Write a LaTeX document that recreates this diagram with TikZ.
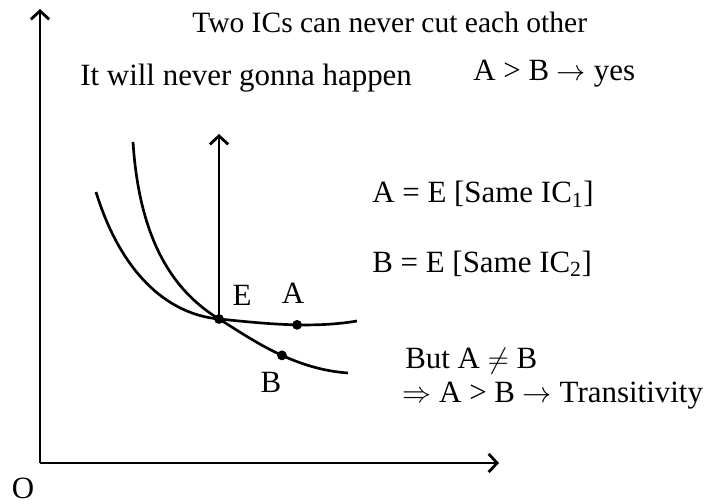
\documentclass[tikz,border=0pt]{standalone}
\usepackage{fontspec}
\setmainfont{Liberation Serif}
\usepackage{tikz}
\usetikzlibrary{positioning, arrows.meta, calc}

\begin{document}
\begin{tikzpicture}[
  x=0.025cm, y=-0.025cm,
  txt/.style={anchor=base west, inner sep=0pt, font=\fontsize{22}{26}\selectfont},
  lbl/.style={inner sep=0pt, font=\fontsize{22}{26}\selectfont},
  axis/.style={-{Straight Barb[length=6pt, width=13pt]}, line width=2pt},
  ic/.style={line width=1.9pt},
  dot/.style={circle, fill, inner sep=0pt, minimum size=7pt},
]
  \useasboundingbox (0,0) rectangle (714,504);

  % axes
  \coordinate (O) at (40,463);
  \coordinate (ytop) at (40,9);
  \coordinate (xend) at (499,463);
  \draw[axis] (O) -- (ytop);
  \draw[axis] (O) -- (xend);
  \node[lbl] (olab) at (23,488) {O};

  % the two curves meet at E
  \coordinate (E) at (219,319);
  \coordinate (etop) at (219,134);
  \draw[ic] (96,192) .. controls (120,270) and (165,314) .. (E)
    .. controls (260,323) and (310,329) .. (357,321) coordinate[pos=0.58] (A);
  \draw[ic] (133,142) .. controls (140,250) and (180,295) .. (E)
    .. controls (250,338) and (292,369) .. (348,373) coordinate[pos=0.56] (B);
  \draw[axis] (E) -- (etop);

  \node[dot] (e) at (E) {};
  \node[dot] (a) at (A) {};
  \node[dot] (b) at (B) {};
  \node[lbl] (elab) at (242,295) {E};
  \node[lbl] (alab) at (293,293) {A};
  \node[lbl] (blab) at (271,382) {B};

  % notes
  \node[txt, font=\fontsize{21}{25}\selectfont] (title) at (192,33) {Two ICs can never cut each other};
  \node[txt] (never) at (80,86) {It will never gonna happen};
  \node[txt] (yes) at (473,81) {A > B $\rightarrow$ yes};
  \node[txt] (same1) at (372,203) {A = E [Same IC\textsubscript{1}]};
  \node[txt] (same2) at (372,272) {B = E [Same IC\textsubscript{2}]};
  \node[txt] (but) at (405,368) {But A $\neq$ B};
  \node[txt] (trans) at (402,402) {$\Rightarrow$ A > B $\rightarrow$ Transitivity};
\end{tikzpicture}
\end{document}
